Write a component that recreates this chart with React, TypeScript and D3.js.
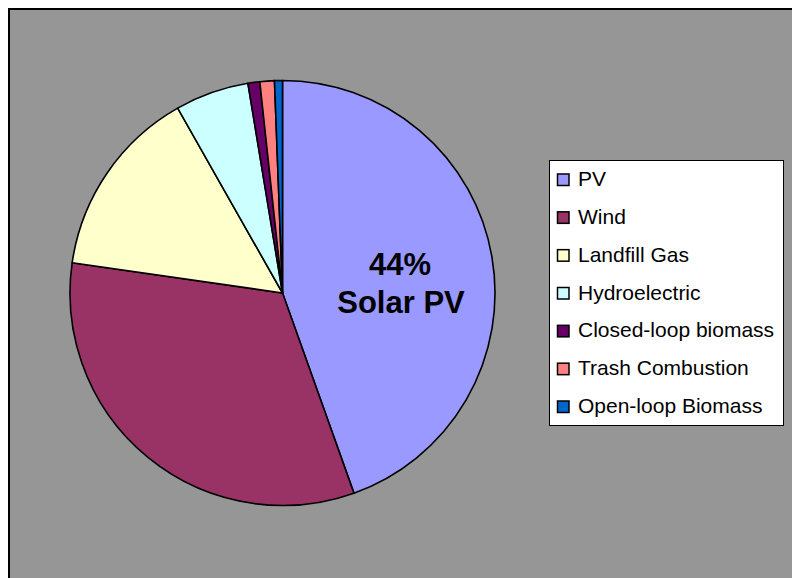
import React from "react";
import * as d3 from "d3";

const categories = ["PV", "Wind", "Landfill Gas", "Hydroelectric", "Closed-loop biomass", "Trash Combustion", "Open-loop Biomass"];
const values = [44.5, 32.7, 14.5, 5.6, 0.9, 1.1, 0.6];
const colors = ["#9999FF", "#993366", "#FFFFCC", "#CCFFFF", "#660066", "#FF8080", "#0066CC"];
const labelLines = ["44%", "Solar PV"];

export default function App() {
  const cx = 282.5, cy = 293, r = 212.5;
  const pie = d3.pie<number>().sort(null).value((d) => d)(values);
  const arc = d3.arc<d3.PieArcDatum<number>>().innerRadius(0).outerRadius(r);
  const font = "'Liberation Sans', Arial, sans-serif";
  const legX = 549, legY = 160, legW = 234, legH = 265;
  const rowY = d3.scaleLinear().domain([0, categories.length - 1]).range([186, 413]);
  return (
    <svg width={792} height={578} style={{ position: "absolute", left: 0, top: 0 }} fontFamily={font}>
      <rect x={0} y={0} width={792} height={578} fill="#ffffff" />
      <rect x={9} y={9} width={820} height={620} fill="#969696" stroke="#000" strokeWidth={2} />
      <g transform={`translate(${cx},${cy})`}>
        {pie.map((p, i) => (
          <path key={i} d={arc(p) || ""} fill={colors[i]} stroke="#000" strokeWidth={1.6} strokeLinejoin="round" />
        ))}
      </g>
      <text x={400} y={275} textAnchor="middle" fontWeight="bold" fontSize={31} fill="#000">{labelLines[0]}</text>
      <text x={401} y={313} textAnchor="middle" fontWeight="bold" fontSize={31} fill="#000">{labelLines[1]}</text>
      <rect x={legX + 0.5} y={legY + 0.5} width={legW} height={legH} fill="#fff" stroke="#000" strokeWidth={1} />
      {categories.map((c, i) => (
        <g key={c}>
          <rect x={557.5} y={rowY(i) - 12} width={11.5} height={11.5} fill={colors[i]} stroke="#000" strokeWidth={1.5} />
          <text x={578} y={rowY(i)} fontSize={21} fill="#000">{c}</text>
        </g>
      ))}
    </svg>
  );
}
